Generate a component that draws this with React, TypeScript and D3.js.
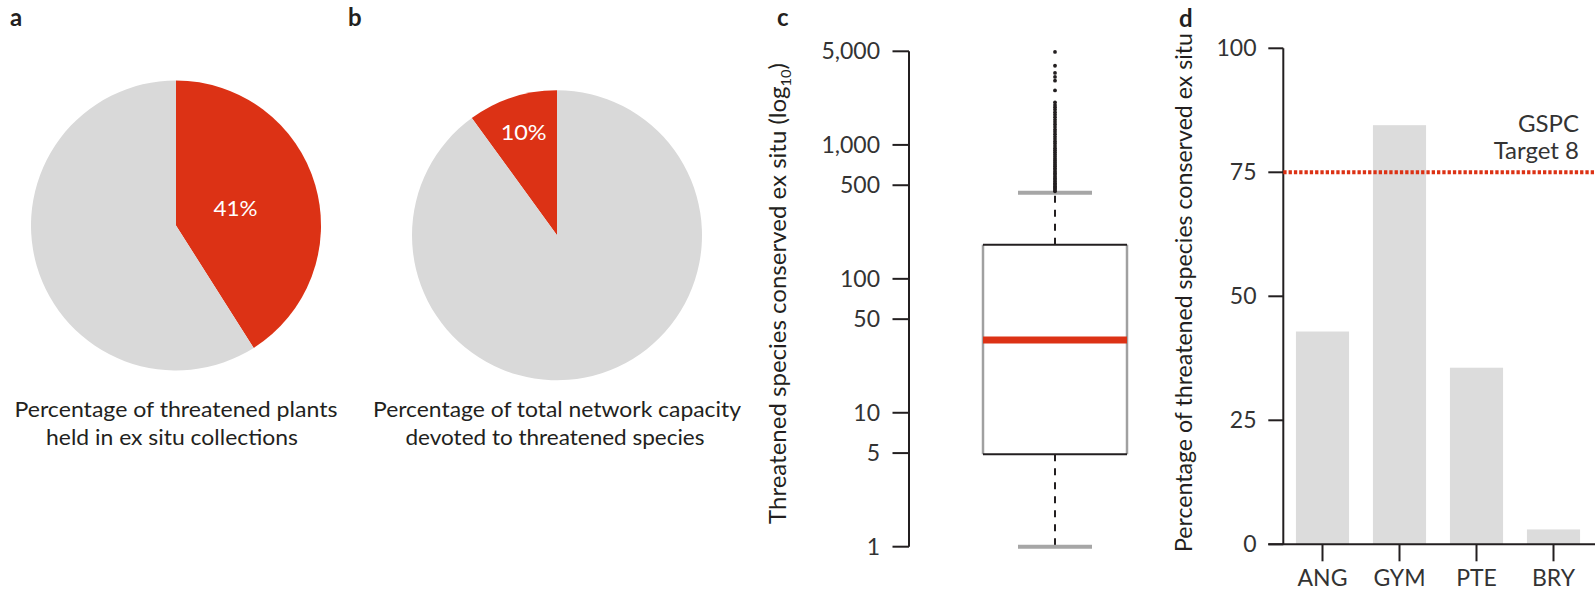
import React from "react";
import * as d3 from "d3";

// ---------- data ----------
const pieAValues = [41, 59]; // threatened held ex situ, rest
const pieALabel = "41%";
const pieBValues = [10, 90]; // capacity devoted to threatened, rest
const pieBLabel = "10%";
const captionA = ["Percentage of threatened plants", "held in ex situ collections"];
const captionB = ["Percentage of total network capacity", "devoted to threatened species"];

// box plot (panel c): whisker low, q1, median, q3, whisker high
const boxStats = [1, 4.9, 35, 180, 440];
const outliers = [
  450, 460, 470, 480, 492, 505, 518, 532, 547, 562, 578, 595, 612, 630, 650, 670, 692, 715,
  740, 765, 790, 818, 848, 880, 912, 945, 980, 1020, 1060, 1105, 1150, 1200, 1250,
  1300, 1360, 1420, 1480, 1540, 1610, 1680, 1750, 1830, 1910, 1990, 2080, 2550, 3020,
  3220, 3450, 3900, 4950,
];
const logTicks = [1, 5, 10, 50, 100, 500, 1000, 5000];

// bars (panel d)
const categories = ["ANG", "GYM", "PTE", "BRY"];
const barValues = [42.9, 84.5, 35.6, 3.0];
const linTicks = [0, 25, 50, 75, 100];
const targetValue = 75;
const targetLabel = ["GSPC", "Target 8"];

// ---------- styles ----------
const RED = "#dc3215";
const GREY = "#d9d9d9";
const INK = "#231f20";
const FONT = "Lato, 'Open Sans', sans-serif";

export default function App() {
  const arc = d3.arc<any>().innerRadius(0).outerRadius(145);

  const pieA = d3.pie<number>().sort(null).value((d) => d)(pieAValues);
  const bStart = (-2 * Math.PI * pieBValues[0]) / 100;
  const pieB = d3
    .pie<number>()
    .sort(null)
    .startAngle(bStart)
    .endAngle(bStart + 2 * Math.PI)
    .value((d) => d)(pieBValues);

  const labelArcA = d3.arc<any>().innerRadius(62).outerRadius(62);
  const labelArcB = d3.arc<any>().innerRadius(108).outerRadius(108);

  // panel c
  const yLog = d3.scaleLog().domain([1, 5000]).range([546.7, 51.3]);
  const fmt = d3.format(",");
  const axisCX = 909;
  const boxCX = 1055;
  const boxHalf = 72;
  const capHalf = 37;

  // panel d
  const yLin = d3.scaleLinear().domain([0, 100]).range([544.3, 48.3]);
  const xBand = d3
    .scaleBand<string>()
    .domain(categories)
    .range([1284, 1592])
    .paddingInner(0.31)
    .paddingOuter(0.155);
  const axisDX = 1283.3;

  const [wLo, q1, med, q3, wHi] = boxStats;

  return (
    <svg
      width={1595}
      height={593}
      style={{ position: "absolute", left: 0, top: 0, background: "#fff" }}
      fontFamily={FONT}
    >
      {/* panel labels */}
      <g fontWeight="bold" fontSize={24} fill={INK}>
        <text x={10} y={26}>a</text>
        <text x={348} y={26}>b</text>
        <text x={777} y={26}>c</text>
        <text x={1179} y={27}>d</text>
      </g>

      {/* pie a */}
      <g transform="translate(176,225.5)">
        {pieA.map((d, i) => (
          <path key={i} d={arc(d) as string} fill={i === 0 ? RED : GREY} />
        ))}
        <text
          transform={`translate(${labelArcA.centroid(pieA[0])})`}
          textAnchor="middle"
          dy="0.35em"
          fill="#fff"
          fontSize={22}
          textLength={44}
          lengthAdjust="spacingAndGlyphs"
        >
          {pieALabel}
        </text>
      </g>
      <g fill={INK} fontSize={21} textAnchor="middle">
        <text x={176} y={417} textLength={323} lengthAdjust="spacingAndGlyphs">{captionA[0]}</text>
        <text x={172} y={445} textLength={252} lengthAdjust="spacingAndGlyphs">{captionA[1]}</text>
      </g>

      {/* pie b */}
      <g transform="translate(557,235.3)">
        {pieB.map((d, i) => (
          <path key={i} d={arc(d) as string} fill={i === 0 ? RED : GREY} />
        ))}
        <text
          transform={`translate(${labelArcB.centroid(pieB[0])})`}
          textAnchor="middle"
          dy="0.35em"
          fill="#fff"
          fontSize={22}
          textLength={46}
          lengthAdjust="spacingAndGlyphs"
        >
          {pieBLabel}
        </text>
      </g>
      <g fill={INK} fontSize={21} textAnchor="middle">
        <text x={557} y={417} textLength={368} lengthAdjust="spacingAndGlyphs">{captionB[0]}</text>
        <text x={555} y={445} textLength={299} lengthAdjust="spacingAndGlyphs">{captionB[1]}</text>
      </g>

      {/* panel c axis */}
      <line x1={axisCX} x2={axisCX} y1={yLog(5000)} y2={yLog(1)} stroke={INK} strokeWidth={2} />
      {logTicks.map((t) => (
        <g key={t}>
          <line x1={axisCX - 16.5} x2={axisCX} y1={yLog(t)} y2={yLog(t)} stroke={INK} strokeWidth={2} />
          <text x={880} y={yLog(t)} dy="0.35em" textAnchor="end" fontSize={23} fill="#333">
            {fmt(t)}
          </text>
        </g>
      ))}
      <text
        transform="translate(786,293.5) rotate(-90)"
        textAnchor="middle"
        fontSize={23}
        fill={INK}
        textLength={461}
        lengthAdjust="spacingAndGlyphs"
      >
        Threatened species conserved ex situ (log
        <tspan fontSize={14} dy={5}>10</tspan>
        <tspan dy={-5}>)</tspan>
      </text>

      {/* box plot */}
      <line x1={boxCX} x2={boxCX} y1={yLog(q3)} y2={yLog(wHi)} stroke={INK} strokeWidth={2} strokeDasharray="7 7" />
      <line x1={boxCX} x2={boxCX} y1={yLog(q1)} y2={yLog(wLo)} stroke={INK} strokeWidth={2} strokeDasharray="7 7" />
      <line x1={boxCX - capHalf} x2={boxCX + capHalf} y1={yLog(wHi)} y2={yLog(wHi)} stroke="#a6a6a6" strokeWidth={4} />
      <line x1={boxCX - capHalf} x2={boxCX + capHalf} y1={yLog(wLo)} y2={yLog(wLo)} stroke="#a6a6a6" strokeWidth={4} />
      <line x1={boxCX - boxHalf} x2={boxCX - boxHalf} y1={yLog(q3)} y2={yLog(q1)} stroke="#a0a0a0" strokeWidth={2.5} />
      <line x1={boxCX + boxHalf} x2={boxCX + boxHalf} y1={yLog(q3)} y2={yLog(q1)} stroke="#a0a0a0" strokeWidth={2.5} />
      <line x1={boxCX - boxHalf} x2={boxCX + boxHalf} y1={yLog(q3)} y2={yLog(q3)} stroke={INK} strokeWidth={2} />
      <line x1={boxCX - boxHalf} x2={boxCX + boxHalf} y1={yLog(q1)} y2={yLog(q1)} stroke={INK} strokeWidth={2} />
      <line x1={boxCX - boxHalf} x2={boxCX + boxHalf} y1={yLog(med)} y2={yLog(med)} stroke={RED} strokeWidth={7} />
      {outliers.map((v, i) => (
        <circle key={i} cx={boxCX} cy={yLog(v)} r={1.9} fill={INK} />
      ))}

      {/* panel d */}
      {categories.map((c, i) => (
        <rect
          key={c}
          x={xBand(c)}
          width={xBand.bandwidth()}
          y={yLin(barValues[i])}
          height={yLin(0) - yLin(barValues[i])}
          fill="#dcdcdc"
        />
      ))}
      <line x1={axisDX} x2={axisDX} y1={yLin(100)} y2={yLin(0)} stroke={INK} strokeWidth={2} />
      {linTicks.map((t) => (
        <g key={t}>
          <line x1={axisDX - 15} x2={axisDX} y1={yLin(t)} y2={yLin(t)} stroke={INK} strokeWidth={2} />
          <text x={1256.5} y={yLin(t)} dy="0.35em" textAnchor="end" fontSize={23} fill="#333">
            {t}
          </text>
        </g>
      ))}
      <line x1={axisDX - 15} x2={1595} y1={yLin(0)} y2={yLin(0)} stroke={INK} strokeWidth={2} />
      {categories.map((c) => {
        const cx = (xBand(c) as number) + xBand.bandwidth() / 2;
        return (
          <g key={c}>
            <line x1={cx} x2={cx} y1={yLin(0)} y2={yLin(0) + 17} stroke={INK} strokeWidth={2} />
            <text x={cx} y={586} textAnchor="middle" fontSize={23} fill="#333">
              {c}
            </text>
          </g>
        );
      })}
      <line
        x1={axisDX}
        x2={1595}
        y1={yLin(targetValue)}
        y2={yLin(targetValue)}
        stroke={RED}
        strokeWidth={4}
        strokeDasharray="3.3 2"
      />
      <g textAnchor="end" fontSize={24} fill="#333">
        <text x={1579} y={131.5}>{targetLabel[0]}</text>
        <text x={1579} y={159}>{targetLabel[1]}</text>
      </g>
      <text
        transform="translate(1192,292.5) rotate(-90)"
        textAnchor="middle"
        fontSize={23}
        fill={INK}
        textLength={519}
        lengthAdjust="spacingAndGlyphs"
      >
        Percentage of threatened species conserved ex situ
      </text>
    </svg>
  );
}
